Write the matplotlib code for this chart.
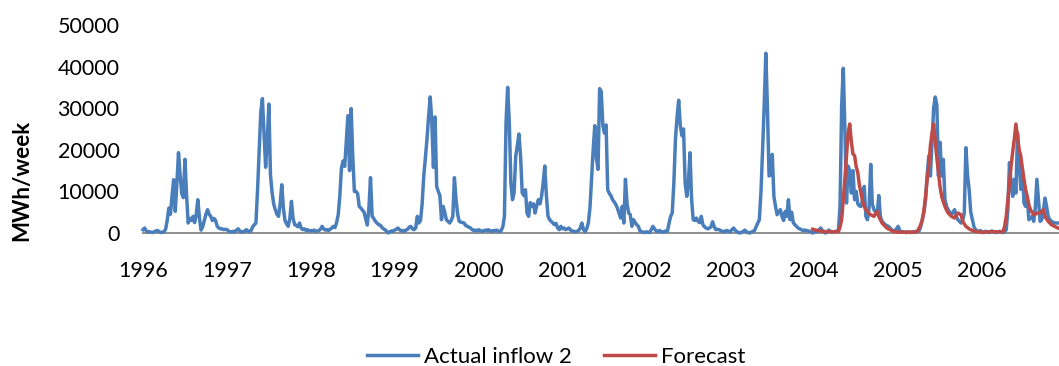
import matplotlib.pyplot as plt
import numpy as np

# weekly inflow series, 52 weeks per year label
years = ["1996", "1997", "1998", "1999", "2000", "2001",
         "2002", "2003", "2004", "2005", "2006"]
weeks_per_year = 52

actual_inflow = [
    # 1996
    800, 1200, 500, 200, 300, 200, 100, 300, 500, 600, 300, 100, 200, 300, 900,
    3000, 6000, 4500, 9000, 12800, 5200, 12000, 19300, 14000, 9500, 8500, 17700,
    9000, 2400, 3500, 3000, 4000, 2500, 4500, 8000, 3500, 700, 1500, 3000, 4500,
    5600, 4500, 4000, 3000, 3500, 3000, 1600, 1200, 1000, 1000, 800, 900,
    # 1997
    800, 500, 300, 200, 400, 300, 700, 1000, 500, 200, 300, 400, 800, 500, 300, 600,
    1500, 2000, 2400, 10400, 20000, 29000, 32300, 24000, 15800, 22000, 31000,
    14000, 9700, 7000, 5600, 4500, 4000, 7000, 11600, 6000, 3000, 2200, 1600,
    3500, 7600, 3500, 2000, 1800, 1500, 2400, 1200, 800, 1000, 600, 800, 500,
    # 1998
    600, 500, 700, 400, 500, 600, 900, 1600, 1000, 700, 800, 600, 900, 1200, 1600,
    1300, 2500, 4400, 9000, 15700, 17300, 16000, 22000, 28200, 15000, 29900,
    18500, 10000, 10000, 9500, 6400, 6000, 5500, 5000, 3500, 1900, 6000, 13300,
    4000, 3500, 2800, 2400, 2000, 1900, 1400, 1000, 800, 400, 0, 300, 500, 400,
    # 1999
    700, 900, 1200, 800, 500, 600, 400, 700, 900, 1400, 1600, 1000, 800, 1200,
    4000, 2400, 3000, 7000, 13700, 18000, 22600, 28000, 32700, 26700, 15800,
    27900, 11200, 10000, 9000, 3200, 6400, 5000, 3200, 2800, 2400, 3000, 4000,
    13300, 8100, 4500, 2800, 2600, 2500, 2400, 1800, 1600, 1400, 1200,
    800, 600, 700, 500,
    # 2000
    800, 600, 400, 500, 700, 600, 800, 500, 400, 600, 500, 700, 500, 300, 600,
    1500, 4000, 26700, 35000, 26700, 12100, 8000, 9700, 18500, 21000, 23800,
    18500, 9700, 9000, 10400, 4800, 4000, 7300, 6500, 7000, 4800, 6500, 8000,
    7000, 8800, 12000, 16100, 9000, 4000, 3200, 2800, 2400, 2000, 2300, 1200,
    800, 1600,
    # 2001
    1000, 1200, 800, 1000, 1200, 700, 500, 400, 300, 400, 600, 1200, 2400, 800,
    300, 1000, 2400, 6000, 12900, 20000, 25800, 18000, 15300, 34700, 34000,
    25800, 24000, 26000, 10400, 9500, 9000, 8000, 7500, 6900, 6000, 4800, 3600,
    6400, 2400, 12900, 7000, 4800, 4400, 1600, 3200, 2500, 2000, 1600, 500,
    300, 200, 100,
    # 2002
    300, 200, 100, 800, 1600, 1000, 500, 300, 600, 400, 200, 300, 500, 400, 2300,
    4000, 4800, 12000, 22600, 28000, 31900, 25800, 23400, 25000, 12000, 8800,
    12000, 19300, 8000, 3200, 3000, 3600, 2800, 2500, 4000, 2000, 1500, 1200,
    1000, 1200, 1500, 2700, 1500, 800, 900, 800, 600, 400, 300, 500, 600, 400,
    # 2003
    300, 800, 1200, 700, 300, 100, 0, 200, 400, 700, 300, 100, 0, 200, 400, 600,
    1500, 2400, 3200, 10000, 20000, 30700, 43200, 30000, 13700, 14000, 18900,
    8800, 6400, 4400, 5000, 5600, 4000, 3000, 5200, 4000, 8000, 3200, 5000, 2500,
    2000, 1600, 1200, 1000, 800, 600, 700, 600, 500, 400, 200, 0,
    # 2004
    200, 400, 300, 800, 1200, 600, 200, 0, 300, 700, 400, 300, 200, 400, 400, 700,
    6400, 30700, 39600, 25000, 7200, 16100, 15000, 9600, 15000, 8000, 10000,
    7000, 6500, 6400, 8000, 11200, 4000, 3200, 6000, 16500, 7000, 5600, 5000,
    4500, 9000, 4000, 2800, 2400, 2000, 1800, 1600, 1200, 800, 400, 600, 1000,
    # 2005
    1600, 600, 200, 300, 200, 100, 300, 200, 100, 300, 200, 400, 300, 500, 1500,
    3200, 5000, 8000, 14000, 18500, 13700, 22000, 30000, 32700, 30700, 13700,
    21800, 13700, 17700, 8000, 6400, 5600, 5000, 4400, 5000, 5600, 4000, 3200,
    2800, 2400, 3000, 4800, 20500, 14000, 10500, 5000, 3200, 1500, 800, 500,
    300, 600,
    # 2006
    200, 100, 400, 300, 100, 200, 500, 300, 200, 100, 300, 400, 200, 100, 300, 800,
    5600, 16900, 12000, 8800, 12900, 9600, 24000, 17700, 10500, 15300, 7200,
    6400, 8800, 3200, 3600, 4000, 2800, 6000, 12900, 8000, 2800, 3200, 5000,
    8400, 6400, 4000, 3200, 2800, 2600, 2400, 2400, 2400,
]

# forecast begins part way through 2004
forecast_start = 415
forecast = [
    900, 800, 700, 600, 500, 500, 400, 400, 300, 300, 300, 300, 300, 300, 300,
    300, 300,
    1500, 3200, 8000, 13000, 18500, 24000, 26200, 22000, 19000, 18600, 16000,
    14500, 11500, 9600, 7500, 6400, 5600, 5200, 4600, 4400, 4200, 4000, 4600,
    5200, 4000, 3200, 2400, 2000, 1600, 1200, 1000, 800, 600, 400, 300, 300,
    200, 200, 200, 200, 200, 200, 200, 200, 200, 200, 200, 200,
    400, 1200, 2000, 3200, 5500, 8800, 13000, 16100, 21000, 24000, 26200, 22000,
    18000, 14500, 11000, 8800, 7500, 6400, 5500, 4800, 4400, 4000, 3800, 3600,
    4200, 4800, 4600, 4400, 2800, 2200, 1600, 1300, 1000, 800, 600, 500, 400,
    300, 300, 200,
    200, 200, 200, 300, 300, 300, 300, 300, 300, 300, 300, 300, 300, 300,
    1600, 4000, 8000, 12000, 16100, 19500, 22600, 26200, 23000, 20000, 18600,
    15500, 12900, 10500, 8800, 6800, 5600, 5000, 4400, 4500, 4800, 4800, 4800,
    5200, 5600, 4000, 3400, 2800, 2400, 2000, 1800, 1600, 1400, 1200,
]

plt.rcParams["font.family"] = ["Lato", "DejaVu Sans"]

fig = plt.figure(figsize=(10.59, 3.66), dpi=100)
ax = fig.add_axes([143 / 1059, 133 / 366, 916 / 1059, 208 / 366])

x_actual = np.arange(len(actual_inflow))
x_forecast = np.arange(forecast_start, forecast_start + len(forecast))
ax.plot(x_actual, actual_inflow, color="#4A7EBB", lw=2.5,
        label="Actual inflow 2", clip_on=False, zorder=3)
ax.plot(x_forecast, forecast, color="#BE4B48", lw=2.5,
        label="Forecast", clip_on=False, zorder=4)

ax.set_xlim(0, 567.7)
ax.set_ylim(0, 50000)
ax.set_yticks(np.arange(0, 50001, 10000))
ax.set_xticks(np.arange(len(years)) * weeks_per_year)
ax.set_xticklabels(years)

for side in ["top", "right", "left"]:
    ax.spines[side].set_visible(False)
ax.spines["bottom"].set_color("#868686")
ax.spines["bottom"].set_linewidth(1.3)
ax.spines["bottom"].set_zorder(1)

ax.tick_params(length=0, labelsize=15.5, labelcolor="#000000")
ax.tick_params(axis="x", pad=20)
ax.tick_params(axis="y", pad=17)

fig.text(22 / 1059, 1 - 180 / 366, "MWh/week", rotation=90, fontsize=16,
         fontweight="bold", ha="center", va="center")

fig.legend(loc="center", bbox_to_anchor=(556 / 1059, 1 - 357 / 366), ncol=2,
           frameon=False, fontsize=16, handlelength=2.3, handletextpad=0.25,
           columnspacing=1.45)

fig.savefig("out.png", dpi=100)
